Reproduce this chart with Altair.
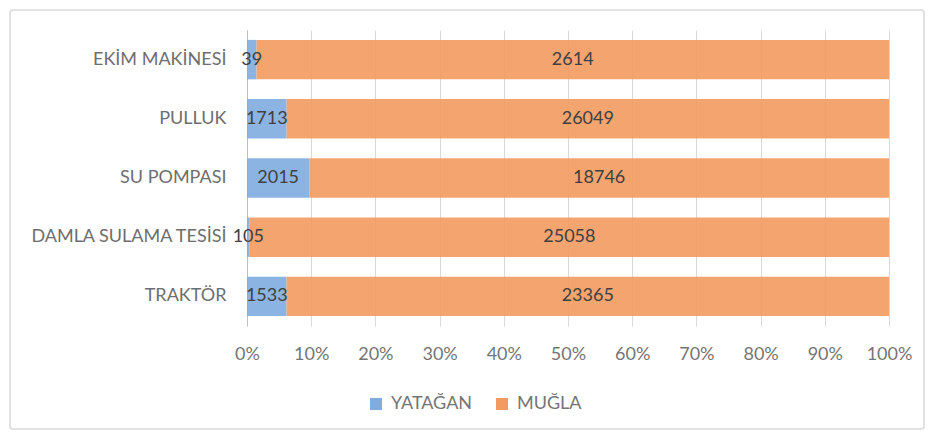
import altair as alt
import pandas as pd

categories = ["EKİM MAKİNESİ", "PULLUK", "SU POMPASI", "DAMLA SULAMA TESİSİ", "TRAKTÖR"]
series = ["YATAĞAN", "MUĞLA"]
yatagan = [39, 1713, 2015, 105, 1533]
mugla = [2614, 26049, 18746, 25058, 23365]
colors = ["#80ACDF", "#F29A5F"]
ticks = [0, 0.1, 0.2, 0.3, 0.4, 0.5, 0.6, 0.7, 0.8, 0.9, 1.0]

rows = []
for i, c in enumerate(categories):
    rows.append({"cat": c, "series": series[0], "value": yatagan[i], "ord": 0})
    rows.append({"cat": c, "series": series[1], "value": mugla[i], "ord": 1})
df = pd.DataFrame(rows)

FONT = "Lato"

base = alt.Chart(df).transform_stack(
    stack="value",
    groupby=["cat"],
    as_=["v0", "v1"],
    offset="normalize",
    sort=[alt.SortField("ord", order="ascending")],
).transform_calculate(mid="(datum.v0 + datum.v1) / 2")

yenc = alt.Y(
    "cat:N",
    sort=categories,
    title=None,
    scale=alt.Scale(paddingInner=0.333, paddingOuter=0.167),
    axis=alt.Axis(
        domain=True, domainColor="#BFBFBF", ticks=False, grid=False,
        labelPadding=21, labelFontSize=18, labelColor="#6E6E6E", labelFont=FONT,
        labelLimit=0,
    ),
)

bars = base.mark_bar(opacity=0.9).encode(
    y=yenc,
    x=alt.X(
        "v0:Q",
        scale=alt.Scale(domain=[0, 1]),
        title=None,
        axis=alt.Axis(
            values=ticks, format=".0%", grid=True, gridColor="#D9D9D9",
            domain=False, ticks=False, labelPadding=19, labelFontSize=18,
            labelColor="#757575", labelFont=FONT, labelFlush=False,
            labelAlign="center", labelOverlap=False,
        ),
    ),
    x2="v1:Q",
    color=alt.Color(
        "series:N",
        scale=alt.Scale(domain=series, range=colors),
        legend=alt.Legend(
            title=None, orient="none", legendX=120, legendY=365,
            direction="horizontal", symbolType="square", symbolSize=144,
            symbolOpacity=1, labelFontSize=18, labelColor="#757575",
            labelFont=FONT, columnPadding=20, labelOffset=6,
            symbolStrokeWidth=0,
        ),
    ),
    order=alt.Order("ord:Q"),
)

labels = base.mark_text(fontSize=18, font=FONT, color="#404040").encode(
    y=alt.Y("cat:N", sort=categories),
    x=alt.X("mid:Q"),
    text=alt.Text("value:Q", format="d"),
)

border = alt.Chart(pd.DataFrame({"a": [0]})).mark_rect(
    fill=None, stroke="#D9D9D9", strokeWidth=1.5, cornerRadius=3
).encode(
    x=alt.value(-237), x2=alt.value(677),
    y=alt.value(-20), y2=alt.value(399),
)

chart = alt.layer(bars, labels, border).properties(
    width=642, height=296,
    autosize=alt.AutoSizeParams(type="none"),
    padding={"left": 239, "top": 22, "right": 37, "bottom": 105},
).configure_view(stroke=None)

chart.save("out.html", embed_options={"renderer": "svg", "actions": False})
